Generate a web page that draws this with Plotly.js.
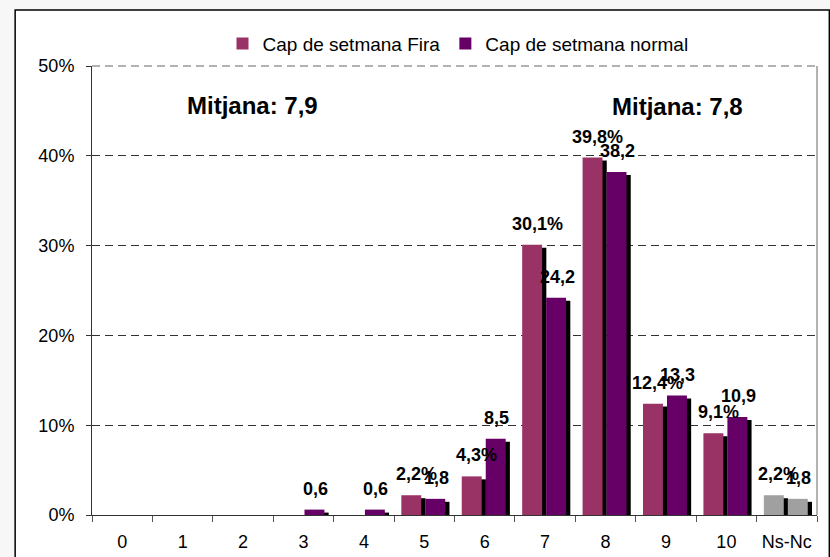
<!DOCTYPE html>
<html>
<head>
<meta charset="utf-8">
<script src="https://cdn.plot.ly/plotly-3.0.1.min.js"></script>
<style>
  html, body { margin: 0; padding: 0; background: #f7f7f7; }
  #chart { width: 830px; height: 557px; }
</style>
</head>
<body>
<div id="chart"></div>
<script>
// ---- data ----
const categories = ['0', '1', '2', '3', '4', '5', '6', '7', '8', '9', '10', 'Ns-Nc'];
const firaValues = [0, 0, 0, 0, 0, 2.2, 4.3, 30.1, 39.8, 12.4, 9.1, 2.2];
const normalValues = [0, 0, 0, 0.6, 0.6, 1.8, 8.5, 24.2, 38.2, 13.3, 10.9, 1.8];
const seriesNames = ['Cap de setmana Fira', 'Cap de setmana normal'];
const meanLabels = ['Mitjana: 7,9', 'Mitjana: 7,8'];

// ---- styling ----
const FONT = 'Liberation Sans, Arial, sans-serif';
const FIRA_COLOR = '#993366';
const NORMAL_COLOR = '#660066';
const NSNC_COLOR = '#a0a0a0';
const BAR_W = 0.33;
const FIRA_OFF = -0.38;
const NORMAL_OFF = 0.017;
const SHADOW_DX = 0.07;
const SHADOW_DY = 0.33;

const colorsFor = (base) => categories.map(c => c === 'Ns-Nc' ? NSNC_COLOR : base);
const shadowOf = (vals) => vals.map(v => Math.max(0, v - SHADOW_DY));

const traces = [
  { type: 'bar', x: categories, y: shadowOf(firaValues), offset: FIRA_OFF + SHADOW_DX, width: BAR_W,
    marker: { color: '#000000', line: { width: 0 } }, showlegend: false, hoverinfo: 'skip' },
  { type: 'bar', name: seriesNames[0], x: categories, y: firaValues, offset: FIRA_OFF, width: BAR_W,
    marker: { color: colorsFor(FIRA_COLOR), line: { width: 0 } } },
  { type: 'bar', x: categories, y: shadowOf(normalValues), offset: NORMAL_OFF + SHADOW_DX, width: BAR_W,
    marker: { color: '#000000', line: { width: 0 } }, showlegend: false, hoverinfo: 'skip' },
  { type: 'bar', name: seriesNames[1], x: categories, y: normalValues, offset: NORMAL_OFF, width: BAR_W,
    marker: { color: colorsFor(NORMAL_COLOR), line: { width: 0 } } }
];

const fmt = (v) => v.toFixed(1).replace('.', ',');
const annotations = [];
categories.forEach((c, i) => {
  if (firaValues[i] > 0) {
    annotations.push({ x: c, y: firaValues[i], xref: 'x', yref: 'y', text: '<b>' + fmt(firaValues[i]) + '%</b>',
      showarrow: false, yanchor: 'bottom', xanchor: 'center', xshift: -8, yshift: 9,
      font: { family: FONT, size: 18, color: '#000' } });
  }
  if (normalValues[i] > 0) {
    annotations.push({ x: c, y: normalValues[i], xref: 'x', yref: 'y', text: '<b>' + fmt(normalValues[i]) + '</b>',
      showarrow: false, yanchor: 'bottom', xanchor: 'center', xshift: 12, yshift: 9,
      font: { family: FONT, size: 18, color: '#000' } });
  }
});
annotations.push({ xref: 'paper', yref: 'paper', x: 0.222, y: 0.913, text: '<b>' + meanLabels[0] + '</b>',
  showarrow: false, xanchor: 'center', yanchor: 'middle', font: { family: FONT, size: 24, color: '#000' } });
annotations.push({ xref: 'paper', yref: 'paper', x: 0.808, y: 0.91, text: '<b>' + meanLabels[1] + '</b>',
  showarrow: false, xanchor: 'center', yanchor: 'middle', font: { family: FONT, size: 24, color: '#000' } });

const layout = {
  width: 830, height: 557,
  margin: { l: 92, r: 13, t: 66, b: 42 },
  paper_bgcolor: '#f7f7f7',
  plot_bgcolor: 'rgba(0,0,0,0)',
  barmode: 'overlay',
  font: { family: FONT, size: 18, color: '#000' },
  showlegend: true,
  legend: { orientation: 'h', x: 0.18, xanchor: 'left', y: 1.05, yanchor: 'middle',
    font: { family: FONT, size: 19, color: '#000' }, bgcolor: 'rgba(0,0,0,0)', itemclick: false },
  xaxis: {
    type: 'category', categoryorder: 'array', categoryarray: categories,
    range: [-0.5, categories.length - 0.5],
    showline: true, linecolor: '#333', linewidth: 1,
    ticks: 'outside', tickson: 'boundaries', ticklen: 6, tickcolor: '#555',
    showgrid: false, zeroline: false, ticklabelstandoff: 10,
    tickfont: { family: FONT, size: 18, color: '#000' }
  },
  yaxis: {
    range: [0, 50], dtick: 10, ticksuffix: '%',
    showline: true, linecolor: '#333', linewidth: 1,
    ticks: 'outside', ticklen: 5, tickcolor: '#333',
    showgrid: true, gridcolor: '#333', gridwidth: 1, griddash: '8px,5px',
    zeroline: false, ticklabelstandoff: 8,
    tickfont: { family: FONT, size: 18, color: '#000' }
  },
  shapes: [
    { type: 'rect', xref: 'paper', yref: 'paper', x0: -0.106, x1: 1.017, y0: -0.12, y1: 1.125,
      fillcolor: '#ffffff', line: { color: '#000', width: 1.5 }, layer: 'below' },
    { type: 'line', xref: 'paper', yref: 'paper', x0: 1, x1: 1, y0: 0, y1: 1,
      line: { color: '#999', width: 1.5 } },
    { type: 'line', xref: 'paper', yref: 'paper', x0: 0, x1: 1, y0: 1, y1: 1,
      line: { color: '#999', width: 1.5, dash: '8px,5px' } }
  ],
  annotations: annotations
};

Plotly.newPlot('chart', traces, layout, { staticPlot: true, displayModeBar: false });
</script>
</body>
</html>
